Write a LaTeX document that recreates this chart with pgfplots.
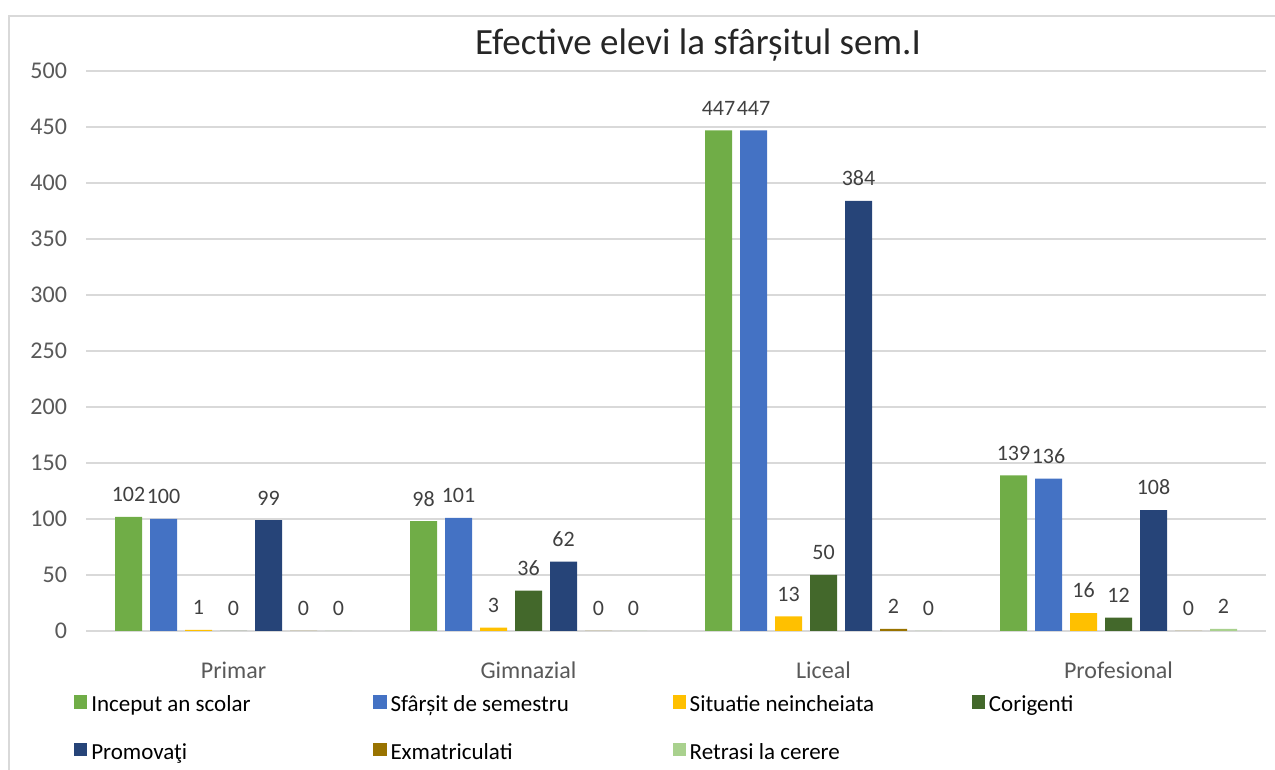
\documentclass[border=0pt]{standalone}
\usepackage{fontspec}
\setmainfont{Carlito}
\usepackage{pgfplots}
\pgfplotsset{compat=1.18}

\definecolor{cInceput}{HTML}{70AD47}
\definecolor{cSfarsit}{HTML}{4472C4}
\definecolor{cSituatie}{HTML}{FFC000}
\definecolor{cCorigenti}{HTML}{43682B}
\definecolor{cPromovati}{HTML}{264478}
\definecolor{cExmatr}{HTML}{997300}
\definecolor{cRetrasi}{HTML}{A9D18E}
\definecolor{gridgray}{HTML}{D9D9D9}
\definecolor{ticktext}{HTML}{595959}
\definecolor{labeltext}{HTML}{404040}

\begin{document}
\begin{tikzpicture}
\useasboundingbox (0,0) rectangle (637.5pt,385pt);
% chart frame (top and left edges only visible)
\draw[gridgray, line width=1pt] (4.5pt,-1pt) -- (4.5pt,377pt) -- (640pt,377pt);

\node[font=\fontsize{18.5}{20}\selectfont, text=black!85] at (349pt,362.5pt) {Efective elevi la sfârșitul sem.I};

\begin{axis}[
    at={(43pt,69.5pt)}, anchor=south west,
    scale only axis,
    width=590pt, height=280pt,
    xmin=-0.5, xmax=3.5,
    ymin=0, ymax=500,
    ytick={0,50,...,500},
    xtick={0,1,2,3},
    xticklabels={Primar,Gimnazial,Liceal,Profesional},
    axis line style={draw=none},
    major tick length=0pt,
    ymajorgrids,
    grid style={gridgray, line width=0.75pt},
    /pgf/number format/assume math mode=true,
    ticklabel style={font=\fontsize{12}{14}\selectfont, text=ticktext},
    yticklabel style={xshift=-6pt},
    xticklabel style={yshift=-12pt},
    ybar=4pt,
    bar width=13.5pt,
    every axis plot/.append style={draw=none},
    nodes near coords,
    nodes near coords style={font=\fontsize{11}{13}\selectfont, text=labeltext, yshift=4pt},
    legend columns=4,
    legend style={
        draw=none, fill=none,
        at={(axis description cs:-0.0155,-0.107)}, anchor=north west,
        font=\fontsize{11.5}{13}\selectfont,
        /tikz/row sep=12.5pt,
        nodes={inner sep=0pt, text height=8pt, text depth=3pt},
    },
    legend image code/.code={\fill[#1] (0pt,-0.8pt) rectangle (6.6pt,5.8pt);},
]

\addplot[fill=cInceput] coordinates {(0,102) (1,98) (2,447) (3,139)};
\addlegendentry{\hspace{2pt}\makebox[141pt][l]{Inceput an scolar}}

\addplot[fill=cSfarsit] coordinates {(0,100) (1,101) (2,447) (3,136)};
\addlegendentry{\hspace{2pt}\makebox[141pt][l]{Sfârșit de semestru}}

\addplot[fill=cSituatie] coordinates {(0,1) (1,3) (2,13) (3,16)};
\addlegendentry{\hspace{2pt}\makebox[141pt][l]{Situatie neincheiata}}

\addplot[fill=cCorigenti] coordinates {(0,0) (1,36) (2,50) (3,12)};
\addlegendentry{\hspace{2pt}\makebox[141pt][l]{Corigenti}}

\addplot[fill=cPromovati] coordinates {(0,99) (1,62) (2,384) (3,108)};
\addlegendentry{\hspace{2pt}\makebox[141pt][l]{Promovaţi}}

\addplot[fill=cExmatr] coordinates {(0,0) (1,0) (2,2) (3,0)};
\addlegendentry{\hspace{2pt}\makebox[141pt][l]{Exmatriculati}}

\addplot[fill=cRetrasi] coordinates {(0,0) (1,0) (2,0) (3,2)};
\addlegendentry{\hspace{2pt}\makebox[141pt][l]{Retrasi la cerere}}

\end{axis}
\end{tikzpicture}
\end{document}
